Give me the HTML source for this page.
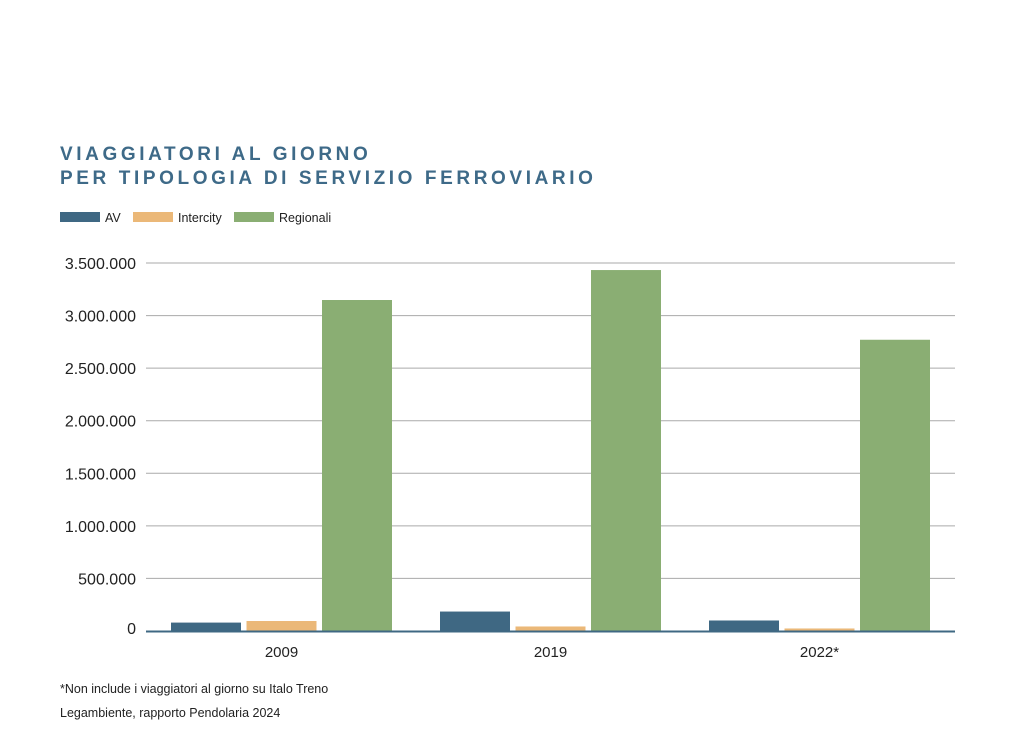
<!DOCTYPE html>
<html><head><meta charset="utf-8"><style>
body{margin:0;background:#fff;font-family:"Liberation Sans",sans-serif;}
#wrap{position:relative;width:1024px;height:736px;overflow:hidden;}
.t{position:absolute;left:60px;color:#3e6a88;font-weight:bold;font-size:19px;letter-spacing:3.6px;}
</style></head><body>
<div id="wrap">
<div class="t" style="top:144px">VIAGGIATORI AL GIORNO</div>
<div class="t" style="top:168px">PER TIPOLOGIA DI SERVIZIO FERROVIARIO</div>
<svg id="c" width="1024" height="736" style="position:absolute;left:0;top:0"></svg>
</div>
<script>
const categories=["2009","2019","2022*"];
const seriesNames=["AV","Intercity","Regionali"];
const av=[80000,185000,100000];
const intercity=[95000,43000,24000];
const regionali=[3148000,3433000,2770000];
const yTicks=[0,500000,1000000,1500000,2000000,2500000,3000000,3500000];
const yTickLabels=["0","500.000","1.000.000","1.500.000","2.000.000","2.500.000","3.000.000","3.500.000"];
const colors=["#3f6883","#ebb878","#8aae73"];
const svg=document.getElementById('c');const NS="http://www.w3.org/2000/svg";
function mk(t,a,p){const e=document.createElementNS(NS,t);for(const k in a)e.setAttribute(k,a[k]);(p||svg).appendChild(e);return e;}
const y0=631,yTop=263,yMax=3500000;
const y=v=>y0-(v/yMax)*(y0-yTop);
const gx0=146,gx1=955;
const groupStart=[171,440,709],bw=70,gap=5.5;
yTicks.forEach((v,i)=>{
 if(i>0){const l=mk('line',{x1:gx0,x2:gx1,y1:y(v),y2:y(v),stroke:'#aaa','stroke-width':1});
 }
 const t=mk('text',{x:136,y:y(v)+(i==0?3:6),'text-anchor':'end','font-size':16,fill:'#222'});
 t.textContent=yTickLabels[i];
 
});
const series=[av,intercity,regionali];
categories.forEach((c,ci)=>{
 series.forEach((s,si)=>{
  const x=groupStart[ci]+si*(bw+gap);
  const r=mk('rect',{x:x,y:y(s[ci]),width:bw,height:y0-y(s[ci]),fill:colors[si]});
  
  
 });
 const t=mk('text',{x:groupStart[ci]+bw*1.5+gap,y:657,'text-anchor':'middle','font-size':15,fill:'#222'});
 t.textContent=c;
 
});
const ax=mk('line',{x1:gx0,x2:gx1,y1:y0+0.5,y2:y0+0.5,stroke:'#3f6883','stroke-width':2});

const lx=[60,133,234];
seriesNames.forEach((n,i)=>{
 const r=mk('rect',{x:lx[i],y:212,width:40,height:10,fill:colors[i]});
 
 const t=mk('text',{x:lx[i]+45,y:222,'font-size':12.5,fill:'#222'});t.textContent=n;
 
});
const n1=mk('text',{x:60,y:693,'font-size':12.5,fill:'#222'});n1.textContent="*Non include i viaggiatori al giorno su Italo Treno";

const n2=mk('text',{x:60,y:717,'font-size':12.5,fill:'#222'});n2.textContent="Legambiente, rapporto Pendolaria 2024";

</script>
</body></html>
